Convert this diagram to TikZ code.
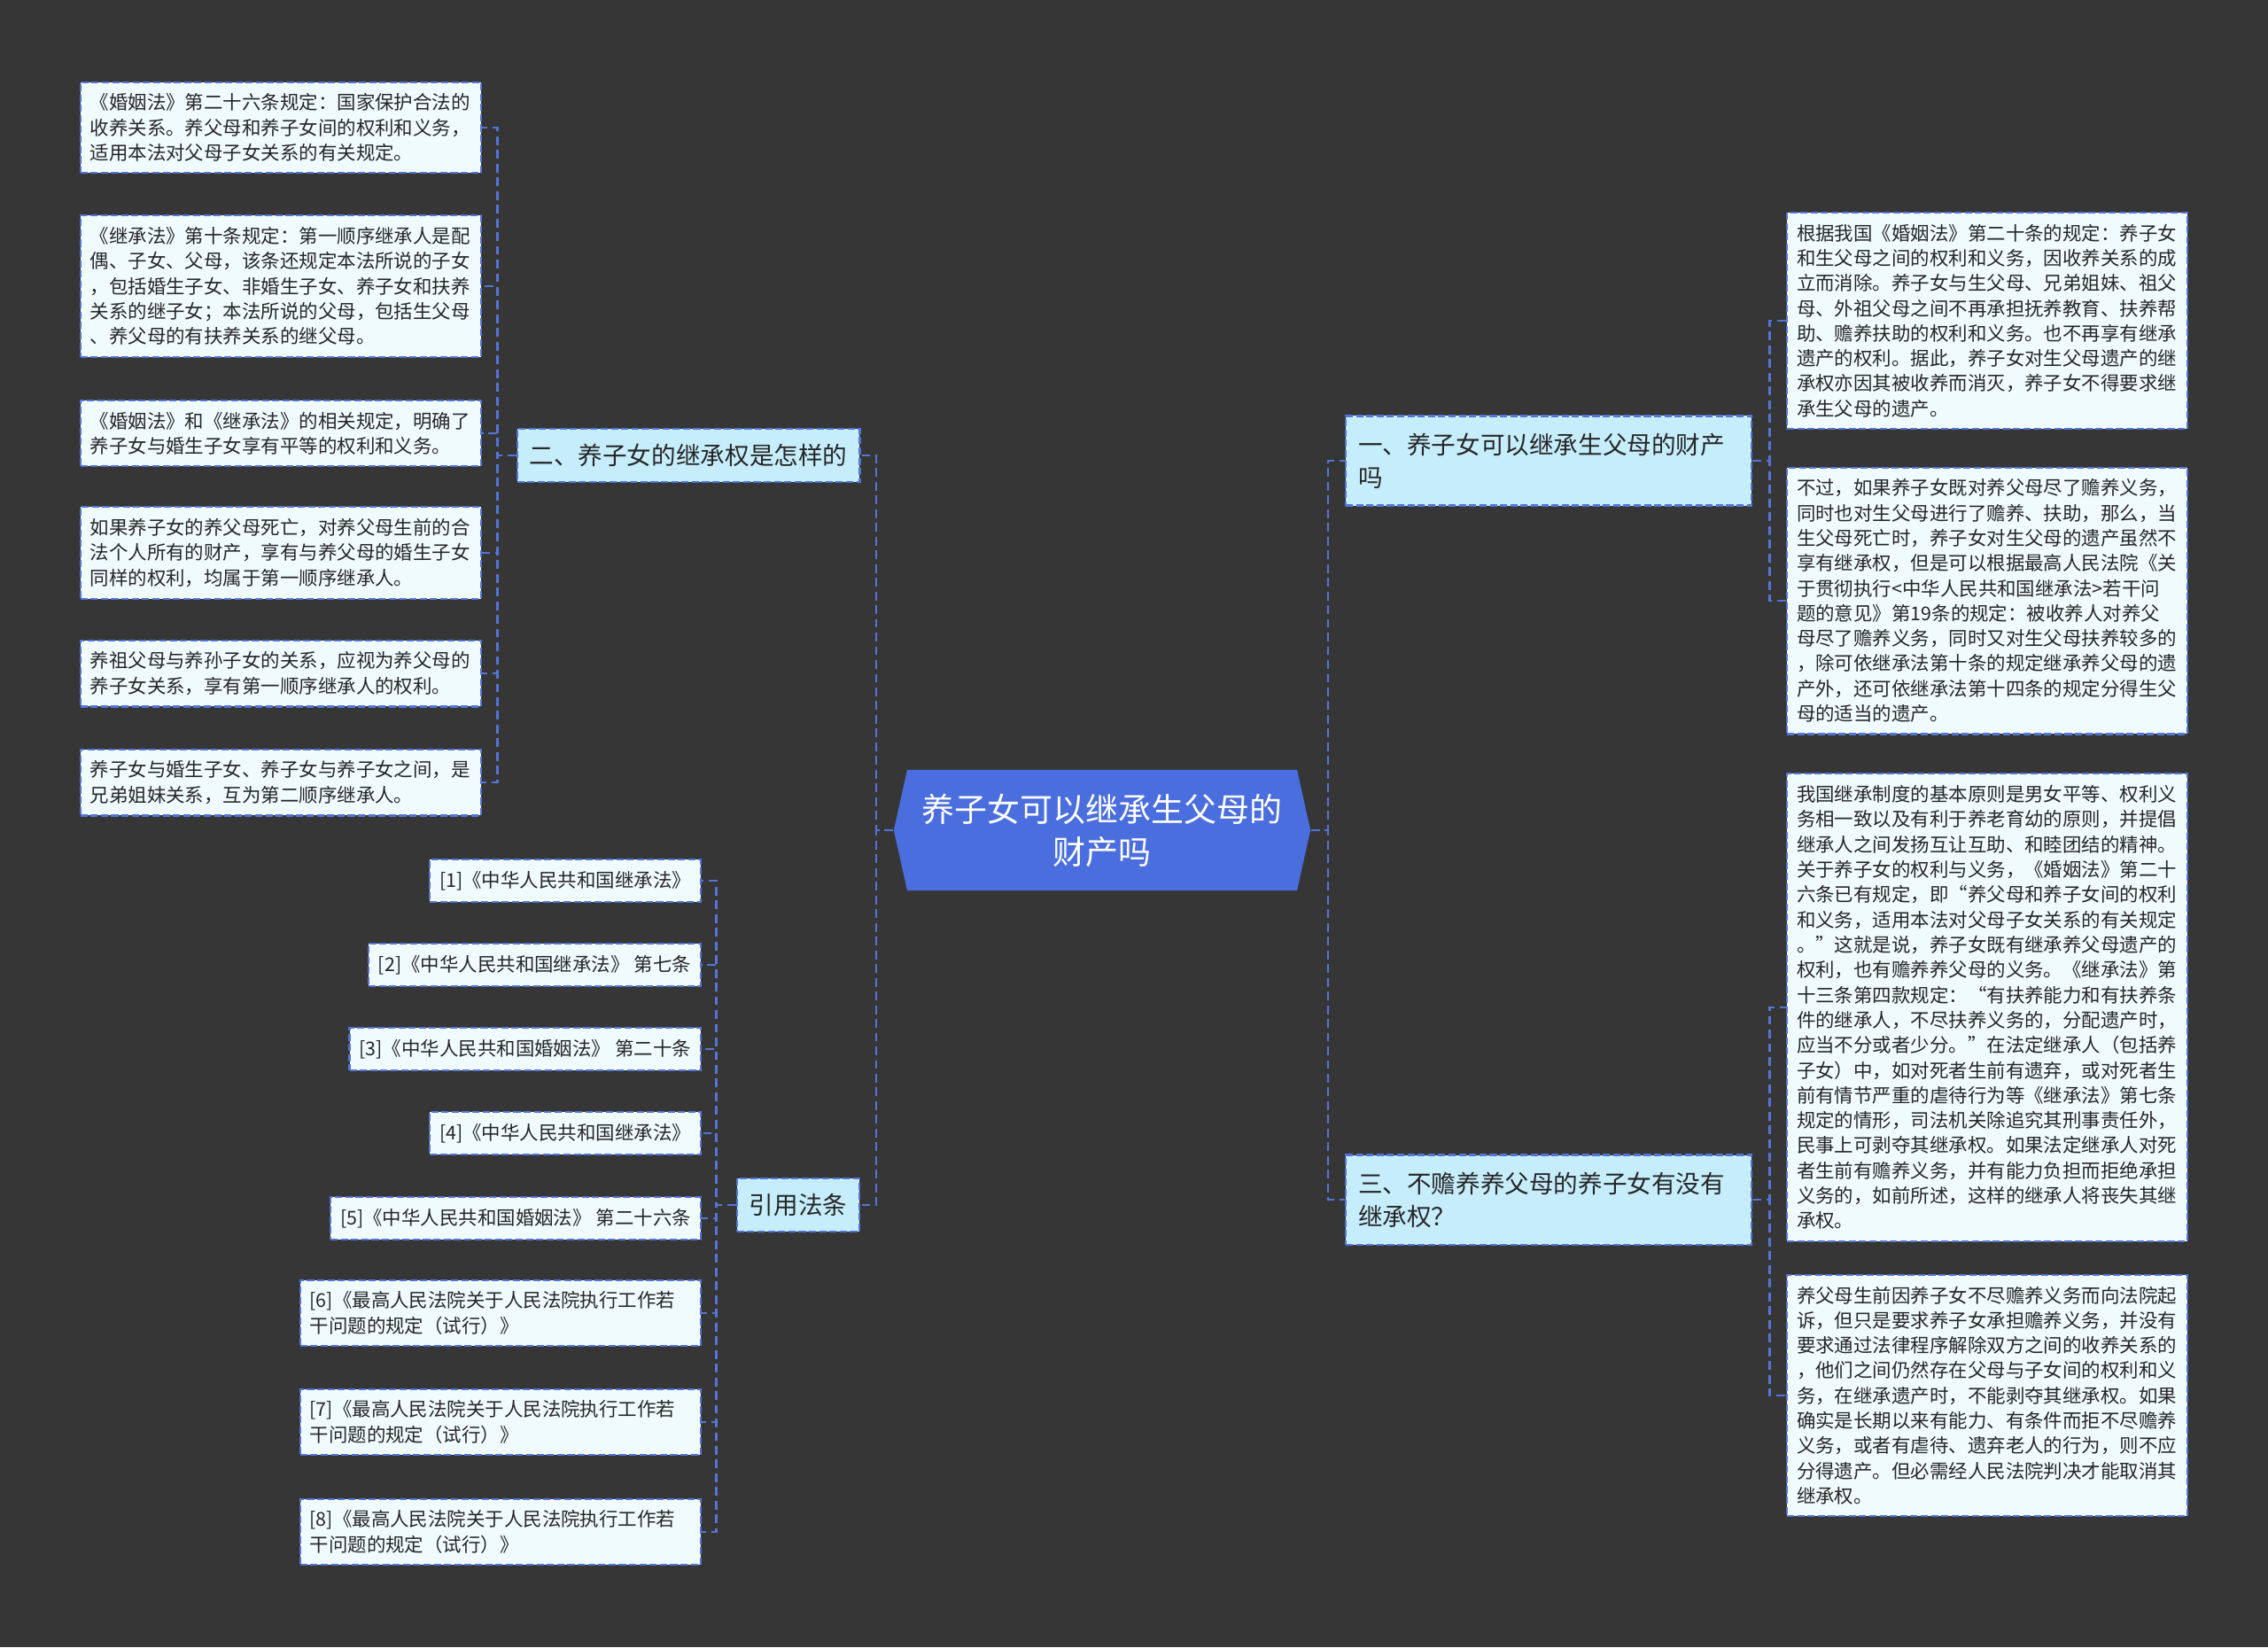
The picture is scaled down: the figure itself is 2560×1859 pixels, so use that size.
\documentclass[tikz,border=0pt]{standalone}
\usepackage{fontspec}
\setmainfont{Noto Sans CJK SC}
\usetikzlibrary{shapes.symbols}

\definecolor{bgdark}{HTML}{363636}
\definecolor{hubblue}{HTML}{4B6EDF}
\definecolor{topicfill}{HTML}{C6EDFB}
\definecolor{leaffill}{HTML}{F0FBFE}
\definecolor{edgeblue}{HTML}{5475D8}
\definecolor{inkdark}{HTML}{262626}

\begin{document}
\begin{tikzpicture}[x=0.01cm, y=-0.01cm,
  hub/.style={signal, signal to=west and east, signal pointer angle=155, fill=hubblue, text=white,
    minimum width=4.7cm, minimum height=1.36cm, align=center, font=\fontsize{10.5pt}{13.7pt}\selectfont},
  topic/.style={draw=edgeblue, fill=topicfill, text=inkdark, line width=0.6pt, dash pattern=on 2.3pt off 1pt,
    inner xsep=0.14cm, inner ysep=0.17cm, align=left, font=\fontsize{7.85pt}{10.5pt}\selectfont},
  leaf/.style={draw=edgeblue, fill=leaffill, text=inkdark, line width=0.6pt, dash pattern=on 2.3pt off 1pt,
    inner xsep=0.11cm, inner ysep=0.13cm, align=left, font=\fontsize{6.1pt}{8.05pt}\selectfont},
  link/.style={draw=edgeblue, line width=0.75pt, dash pattern=on 2.8pt off 1.6pt}]
\fill[bgdark] (0,0) rectangle (2560,1859);

% centre
\node[hub] (hub) at (1244,937) {养子女可以继承生父母的\\财产吗};

% first level
\node[topic, anchor=west, text width=4.3cm, minimum height=1.01cm] (q1) at (1518,520) {一、养子女可以继承生父母的财产\\吗};
\node[topic, anchor=west, text width=4.3cm, minimum height=1.01cm] (q3) at (1518,1354) {三、不赡养养父母的养子女有没有\\继承权？};
\node[topic] (q2) at (777,514) {二、养子女的继承权是怎样的};
\node[topic] (law) at (901,1360) {引用法条};

% left leaves
\node[leaf, anchor=east, text width=4.3cm] (a1) at (544,144) {《婚姻法》第二十六条规定：国家保护合法的\\收养关系。养父母和养子女间的权利和义务，\\适用本法对父母子女关系的有关规定。};
\node[leaf, anchor=east, text width=4.3cm] (a2) at (544,323) {《继承法》第十条规定：第一顺序继承人是配\\偶、子女、父母，该条还规定本法所说的子女\\，包括婚生子女、非婚生子女、养子女和扶养\\关系的继子女；本法所说的父母，包括生父母\\、养父母的有扶养关系的继父母。};
\node[leaf, anchor=east, text width=4.3cm] (a3) at (544,489) {《婚姻法》和《继承法》的相关规定，明确了\\养子女与婚生子女享有平等的权利和义务。};
\node[leaf, anchor=east, text width=4.3cm] (a4) at (544,624) {如果养子女的养父母死亡，对养父母生前的合\\法个人所有的财产，享有与养父母的婚生子女\\同样的权利，均属于第一顺序继承人。};
\node[leaf, anchor=east, text width=4.3cm] (a5) at (544,760) {养祖父母与养孙子女的关系，应视为养父母的\\养子女关系，享有第一顺序继承人的权利。};
\node[leaf, anchor=east, text width=4.3cm] (a6) at (544,883) {养子女与婚生子女、养子女与养子女之间，是\\兄弟姐妹关系，互为第二顺序继承人。};

% citations
\node[leaf, anchor=east] (c1) at (792,994) {[1]《中华人民共和国继承法》};
\node[leaf, anchor=east] (c2) at (792,1089) {[2]《中华人民共和国继承法》 第七条};
\node[leaf, anchor=east] (c3) at (792,1184) {[3]《中华人民共和国婚姻法》 第二十条};
\node[leaf, anchor=east] (c4) at (792,1279) {[4]《中华人民共和国继承法》};
\node[leaf, anchor=east] (c5) at (792,1375) {[5]《中华人民共和国婚姻法》 第二十六条};
\node[leaf, anchor=east, text width=4.3cm] (c6) at (792,1482) {[6]《最高人民法院关于人民法院执行工作若\\干问题的规定（试行）》};
\node[leaf, anchor=east, text width=4.3cm] (c7) at (792,1605) {[7]《最高人民法院关于人民法院执行工作若\\干问题的规定（试行）》};
\node[leaf, anchor=east, text width=4.3cm] (c8) at (792,1729) {[8]《最高人民法院关于人民法院执行工作若\\干问题的规定（试行）》};

% right leaves
\node[leaf, anchor=west, text width=4.3cm] (b1) at (2016,362) {根据我国《婚姻法》第二十条的规定：养子女\\和生父母之间的权利和义务，因收养关系的成\\立而消除。养子女与生父母、兄弟姐妹、祖父\\母、外祖父母之间不再承担抚养教育、扶养帮\\助、赡养扶助的权利和义务。也不再享有继承\\遗产的权利。据此，养子女对生父母遗产的继\\承权亦因其被收养而消灭，养子女不得要求继\\承生父母的遗产。};
\node[leaf, anchor=west, text width=4.3cm] (b2) at (2016,678) {不过，如果养子女既对养父母尽了赡养义务，\\同时也对生父母进行了赡养、扶助，那么，当\\生父母死亡时，养子女对生父母的遗产虽然不\\享有继承权，但是可以根据最高人民法院《关\\于贯彻执行<中华人民共和国继承法>若干问\\题的意见》第19条的规定：被收养人对养父\\母尽了赡养义务，同时又对生父母扶养较多的\\，除可依继承法第十条的规定继承养父母的遗\\产外，还可依继承法第十四条的规定分得生父\\母的适当的遗产。};
\node[leaf, anchor=west, text width=4.3cm] (b3) at (2016,1137) {我国继承制度的基本原则是男女平等、权利义\\务相一致以及有利于养老育幼的原则，并提倡\\继承人之间发扬互让互助、和睦团结的精神。\\关于养子女的权利与义务，《婚姻法》第二十\\六条已有规定，即“养父母和养子女间的权利\\和义务，适用本法对父母子女关系的有关规定\\。”这就是说，养子女既有继承养父母遗产的\\权利，也有赡养养父母的义务。《继承法》第\\十三条第四款规定：“有扶养能力和有扶养条\\件的继承人，不尽扶养义务的，分配遗产时，\\应当不分或者少分。”在法定继承人（包括养\\子女）中，如对死者生前有遗弃，或对死者生\\前有情节严重的虐待行为等《继承法》第七条\\规定的情形，司法机关除追究其刑事责任外，\\民事上可剥夺其继承权。如果法定继承人对死\\者生前有赡养义务，并有能力负担而拒绝承担\\义务的，如前所述，这样的继承人将丧失其继\\承权。};
\node[leaf, anchor=west, text width=4.3cm] (b4) at (2016,1575) {养父母生前因养子女不尽赡养义务而向法院起\\诉，但只是要求养子女承担赡养义务，并没有\\要求通过法律程序解除双方之间的收养关系的\\，他们之间仍然存在父母与子女间的权利和义\\务，在继承遗产时，不能剥夺其继承权。如果\\确实是长期以来有能力、有条件而拒不尽赡养\\义务，或者有虐待、遗弃老人的行为，则不应\\分得遗产。但必需经人民法院判决才能取消其\\继承权。};

% connectors
\draw[link] (hub.west) -- ++(-19,0) |- (q2.east);
\draw[link] (hub.west) -- ++(-19,0) |- (law.east);
\draw[link] (hub.east) -- ++(19,0) |- (q1.west);
\draw[link] (hub.east) -- ++(19,0) |- (q3.west);
\draw[link] (q2.west) -- ++(-21,0) |- (a1.east);
\draw[link] (q2.west) -- ++(-21,0) |- (a2.east);
\draw[link] (q2.west) -- ++(-21,0) |- (a3.east);
\draw[link] (q2.west) -- ++(-21,0) |- (a4.east);
\draw[link] (q2.west) -- ++(-21,0) |- (a5.east);
\draw[link] (q2.west) -- ++(-21,0) |- (a6.east);
\draw[link] (law.west) -- ++(-22,0) |- (c1.east);
\draw[link] (law.west) -- ++(-22,0) |- (c2.east);
\draw[link] (law.west) -- ++(-22,0) |- (c3.east);
\draw[link] (law.west) -- ++(-22,0) |- (c4.east);
\draw[link] (law.west) -- ++(-22,0) |- (c5.east);
\draw[link] (law.west) -- ++(-22,0) |- (c6.east);
\draw[link] (law.west) -- ++(-22,0) |- (c7.east);
\draw[link] (law.west) -- ++(-22,0) |- (c8.east);
\draw[link] (q1.east) -- ++(19,0) |- (b1.west);
\draw[link] (q1.east) -- ++(19,0) |- (b2.west);
\draw[link] (q3.east) -- ++(19,0) |- (b3.west);
\draw[link] (q3.east) -- ++(19,0) |- (b4.west);
\end{tikzpicture}
\end{document}
